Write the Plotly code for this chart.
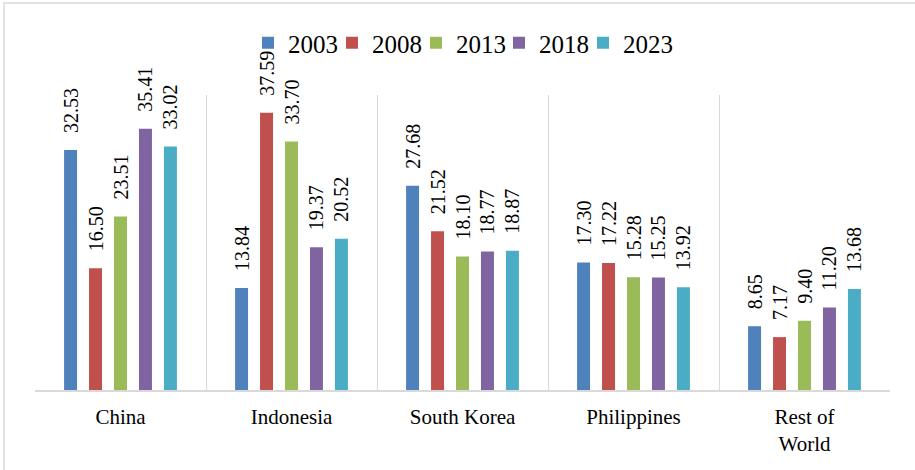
import plotly.graph_objects as go

categories = ["China", "Indonesia", "South Korea", "Philippines", "Rest of<br>World"]
years = ["2003", "2008", "2013", "2018", "2023"]
v2003 = [32.53, 13.84, 27.68, 17.30, 8.65]
v2008 = [16.50, 37.59, 21.52, 17.22, 7.17]
v2013 = [23.51, 33.70, 18.10, 15.28, 9.40]
v2018 = [35.41, 19.37, 18.77, 15.25, 11.20]
v2023 = [33.02, 20.52, 18.87, 13.92, 13.68]
series = [v2003, v2008, v2013, v2018, v2023]
colors = ["#4F81BD", "#C0504D", "#9BBB59", "#8064A2", "#4BACC6"]

W, H = 915, 470
ml, mr, mt, mb = 35, 25, 95, 80
pw, ph = W - ml - mr, H - mt - mb

FONT = "Liberation Serif"

def px_x(p):
    return (p - ml) / pw

def px_y(p):
    return (H - mb - p) / ph

# left pixel position of each legend entry
legend_left_px = [248, 332, 416, 499, 583]
legend_ids = ["legend"] + [f"legend{i}" for i in range(2, len(years) + 1)]

fig = go.Figure()
for i, (name, vals, col) in enumerate(zip(years, series, colors)):
    fig.add_trace(go.Bar(
        name=name, x=categories, y=vals,
        marker=dict(color=col, line=dict(width=0)),
        texttemplate="\u2002\u2009%{y:.2f}",
        textposition="outside", textangle=-90,
        constraintext="none", cliponaxis=False,
        textfont=dict(family=FONT, size=20, color="#000000"),
        legend=legend_ids[i],
    ))

legend_common = dict(
    orientation="h", yanchor="middle", y=px_y(43), xanchor="left",
    font=dict(family=FONT, size=25, color="#000000"),
    itemwidth=30, tracegroupgap=0, bgcolor="rgba(0,0,0,0)",
)
legends = {lid: dict(legend_common, x=px_x(lx)) for lid, lx in zip(legend_ids, legend_left_px)}

fig.update_layout(
    width=W, height=H,
    margin=dict(l=ml, r=mr, t=mt, b=mb, autoexpand=False),
    paper_bgcolor="white", plot_bgcolor="white",
    barmode="group", bargap=0.27, bargroupgap=0.48,
    font=dict(family=FONT, color="#000000"),
    showlegend=True,
    xaxis=dict(
        type="category", tickson="boundaries", showgrid=True, gridcolor="#D9D9D9", gridwidth=1,
        showline=True, linecolor="#D9D9D9", linewidth=1.5, ticks="", automargin=False,
        tickfont=dict(family=FONT, size=21, color="#000000"), ticklabelstandoff=7,
    ),
    yaxis=dict(range=[0, 40], showgrid=False, showticklabels=False, zeroline=False,
               showline=False, automargin=False),
    shapes=[dict(type="rect", xref="paper", yref="paper",
                 x0=px_x(4), x1=px_x(930), y0=px_y(490), y1=px_y(3),
                 line=dict(color="#D9D9D9", width=1.5), fillcolor="rgba(0,0,0,0)", layer="below")],
    **legends,
)

fig.write_html("out.html", config={"displayModeBar": False},
               post_script="document.body.style.margin='0';document.body.style.padding='0';")
